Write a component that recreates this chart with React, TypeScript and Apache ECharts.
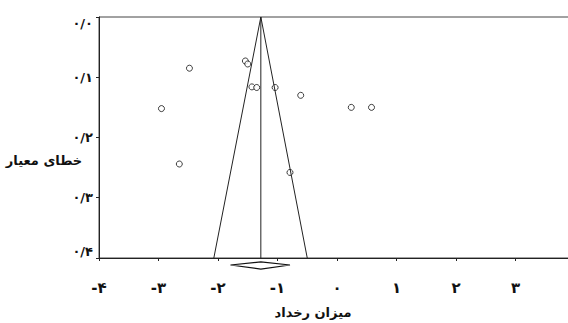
import React, { useEffect, useRef } from "react";
import * as echarts from "echarts";

const persianDigits = ["۰", "۱", "۲", "۳", "۴", "۵", "۶", "۷", "۸", "۹"];

// study effect sizes (x) and standard errors (y)
const effectSizes = [-2.48, -1.54, -1.5, -1.43, -1.35, -1.04, -0.61, -2.95, 0.24, 0.58, -2.65, -0.79];
const standardErrors = [0.085, 0.073, 0.078, 0.116, 0.117, 0.117, 0.13, 0.152, 0.15, 0.15, 0.244, 0.258];

const pooledEffect = -1.28;
const funnelLeftBottom = -2.07;
const funnelRightBottom = -0.5;
const funnelBottomSE = 0.4;

// pooled-estimate diamond drawn just under the axis: [x, y]
const diamondPoints: [number, number][] = [
  [-1.79, 0.4116],
  [-1.28, 0.4066],
  [-0.79, 0.4116],
  [-1.28, 0.4183],
];

const yTitle = "خطای معیار";
const xTitle = "میزان رخداد";

function toPersian(n: number): string {
  return String(n)
    .split("")
    .map((c) => (c >= "0" && c <= "9" ? persianDigits[Number(c)] : c))
    .join("");
}

export default function App() {
  const ref = useRef<HTMLDivElement>(null);
  useEffect(() => {
    if (!ref.current) return;
    const chart = echarts.init(ref.current, undefined, { renderer: "svg" });
    const font = "DejaVu Sans";
    chart.setOption({
      animation: false,
      backgroundColor: "#ffffff",
      grid: {
        left: 99,
        top: 17,
        width: 476,
        height: 241,
        outerBoundsMode: "none",
        containLabel: false,
        show: true,
        borderColor: "#444",
        borderWidth: 1,
        backgroundColor: "transparent",
      },
      xAxis: {
        type: "value",
        min: -4,
        max: 4,
        interval: 1,
        splitLine: { show: false },
        axisLine: { onZero: false, lineStyle: { color: "#222", width: 1 } },
        axisTick: { show: true, length: 3, lineStyle: { color: "#222" } },
        axisLabel: {
          margin: 22,
          fontFamily: font,
          fontWeight: "bold",
          fontSize: 15,
          color: "#111",
          formatter: (v: number) => (v < 0 ? "-" + toPersian(-v) : toPersian(v)),
        },
      },
      yAxis: {
        type: "value",
        min: 0,
        max: 0.4,
        interval: 0.1,
        inverse: true,
        splitLine: { show: false },
        axisLine: { onZero: false, lineStyle: { color: "#222", width: 1 } },
        axisTick: { show: true, length: 3, lineStyle: { color: "#222" } },
        axisLabel: {
          margin: 6,
          fontFamily: font,
          fontWeight: "bold",
          fontSize: 13,
          color: "#111",
          verticalAlignMinLabel: "top",
          verticalAlignMaxLabel: "bottom",
          formatter: (v: number) => toPersian(0) + "/" + toPersian(Math.round(v * 10)),
        },
      },
      graphic: [
        {
          type: "text",
          x: 44,
          y: 160,
          style: {
            text: yTitle,
            font: "bold 13px 'DejaVu Sans'",
            fill: "#111",
            textAlign: "center",
            textVerticalAlign: "middle",
          },
        },
        {
          type: "text",
          x: 313,
          y: 312,
          style: {
            text: xTitle,
            font: "bold 13px 'DejaVu Sans'",
            fill: "#111",
            textAlign: "center",
            textVerticalAlign: "middle",
          },
        },
      ],
      series: [
        {
          type: "line",
          data: [
            [funnelLeftBottom, funnelBottomSE],
            [pooledEffect, 0],
            [funnelRightBottom, funnelBottomSE],
          ],
          symbol: "none",
          lineStyle: { color: "#222", width: 1 },
          silent: true,
        },
        {
          type: "line",
          data: [
            [pooledEffect, 0],
            [pooledEffect, funnelBottomSE],
          ],
          symbol: "none",
          lineStyle: { color: "#222", width: 1 },
          silent: true,
        },
        {
          type: "scatter",
          data: effectSizes.map((x, i) => [x, standardErrors[i]]),
          symbol: "circle",
          symbolSize: 6,
          itemStyle: { color: "#fff", borderColor: "#111", borderWidth: 1 },
        },
        {
          type: "custom",
          clip: false,
          data: [0],
          renderItem: (_params: any, api: any) => ({
            type: "polygon",
            shape: { points: diamondPoints.map((p) => api.coord(p)) },
            style: { fill: "#fff", stroke: "#111", lineWidth: 1.2 },
          }),
        },
      ],
    });
    return () => chart.dispose();
  }, []);
  return (
    <div
      ref={ref}
      style={{ position: "absolute", left: 0, top: 0, width: 568, height: 323 }}
    />
  );
}
